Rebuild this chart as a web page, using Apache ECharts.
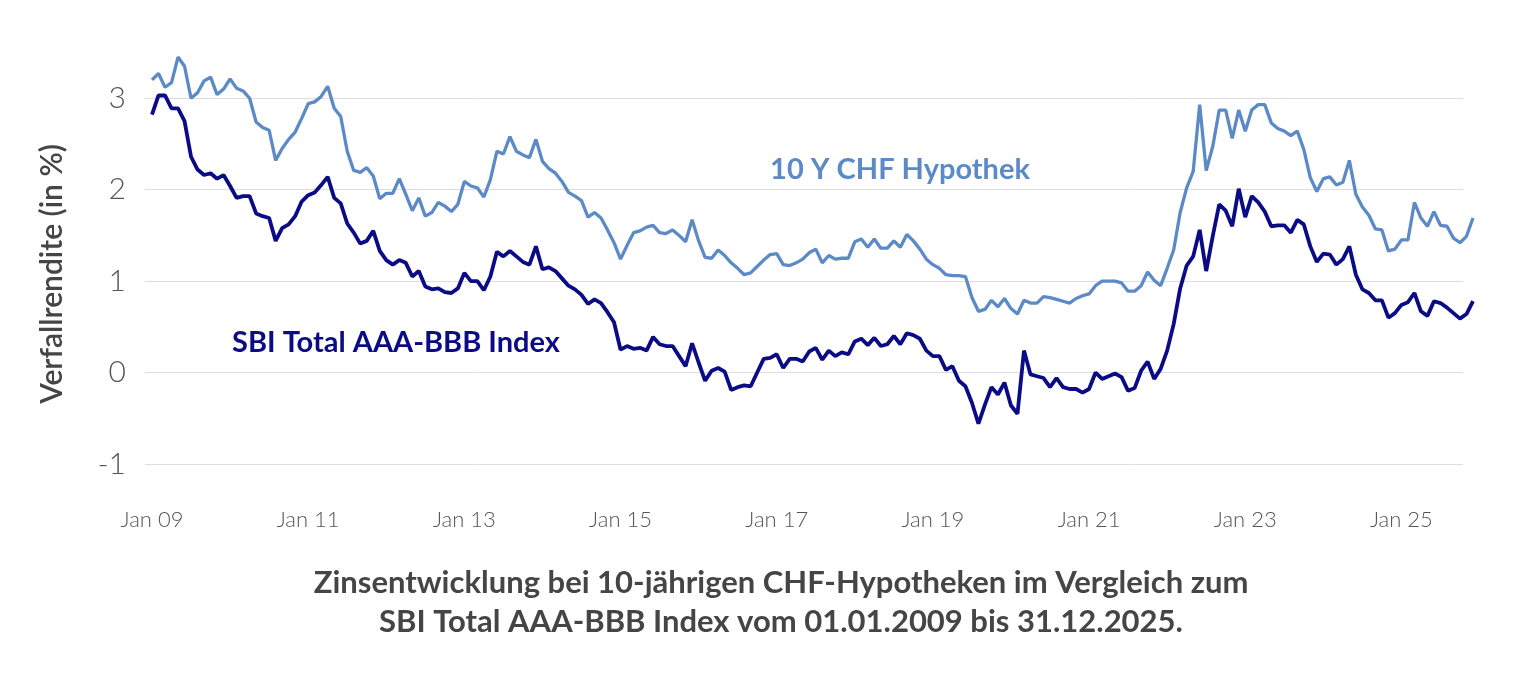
<!DOCTYPE html>
<html>
<head>
<meta charset="utf-8">
<script src="https://cdn.jsdelivr.net/npm/echarts@6/dist/echarts.min.js"></script>
<style>
  html, body { margin:0; padding:0; background:#ffffff; }
  #chart { width:1536px; height:690px; }
</style>
</head>
<body>
<div id="chart"></div>
<script>
// ---- Data (monthly, Jan 2009 – Dec 2025) ----
const startYear = 2009;
const endYear = 2025;
const monthNames = ['Jan','Feb','Mär','Apr','Mai','Jun','Jul','Aug','Sep','Okt','Nov','Dez'];

const hypothek10y = [
  3.20, 3.27, 3.12, 3.17, 3.45, 3.35, 3.00, 3.06, 3.19, 3.23, 3.04, 3.10, 3.21, 3.11, 3.08, 3.00, 2.74, 2.68, 2.65, 2.32, 2.45, 2.55, 2.63, 2.78, 2.94, 2.96,
  3.02, 3.13, 2.89, 2.80, 2.42, 2.21, 2.19, 2.24, 2.15, 1.90, 1.96, 1.96, 2.12, 1.95, 1.77, 1.91, 1.71, 1.75, 1.86, 1.82, 1.76, 1.84, 2.09, 2.04,
  2.02, 1.92, 2.11, 2.42, 2.39, 2.58, 2.42, 2.38, 2.35, 2.55, 2.31, 2.23, 2.18, 2.09, 1.97, 1.93, 1.88, 1.70, 1.75, 1.69, 1.56, 1.42, 1.24, 1.39, 1.53,
  1.55, 1.59, 1.61, 1.53, 1.52, 1.56, 1.50, 1.43, 1.67, 1.44, 1.26, 1.25, 1.34, 1.28, 1.20, 1.14, 1.07, 1.09, 1.16, 1.23, 1.29, 1.30, 1.18, 1.17, 1.20,
  1.24, 1.31, 1.35, 1.20, 1.28, 1.24, 1.25, 1.25, 1.43, 1.46, 1.37, 1.46, 1.36, 1.36, 1.44, 1.37, 1.51, 1.44, 1.35, 1.24, 1.18, 1.14, 1.07, 1.06,
  1.06, 1.05, 0.82, 0.67, 0.69, 0.79, 0.72, 0.81, 0.70, 0.64, 0.79, 0.76, 0.76, 0.83, 0.82, 0.80, 0.78, 0.76, 0.81, 0.84, 0.86, 0.95, 1.00, 1.00, 1.00,
  0.98, 0.89, 0.89, 0.95, 1.10, 1.01, 0.95, 1.14, 1.34, 1.75, 2.02, 2.20, 2.93, 2.21, 2.47, 2.87, 2.87, 2.56, 2.87, 2.64, 2.87, 2.93, 2.93, 2.73, 2.67,
  2.64, 2.59, 2.64, 2.44, 2.13, 1.98, 2.12, 2.14, 2.05, 2.08, 2.32, 1.95, 1.81, 1.72, 1.57, 1.56, 1.33, 1.35, 1.45, 1.45, 1.86, 1.69, 1.60, 1.76, 1.61, 1.60, 1.47, 1.42, 1.49, 1.69
];

const sbiTotal = [
  2.82, 3.03, 3.03, 2.89, 2.89, 2.75, 2.36, 2.22, 2.16, 2.18, 2.12, 2.16, 2.04, 1.91, 1.93, 1.93, 1.74, 1.71, 1.69, 1.44, 1.58, 1.62, 1.71, 1.87, 1.94, 1.97,
  2.05, 2.14, 1.91, 1.85, 1.63, 1.53, 1.41, 1.44, 1.55, 1.33, 1.23, 1.18, 1.23, 1.20, 1.05, 1.11, 0.94, 0.91, 0.92, 0.88, 0.87, 0.92, 1.09, 1.00,
  1.00, 0.90, 1.05, 1.32, 1.27, 1.33, 1.27, 1.21, 1.18, 1.38, 1.13, 1.15, 1.11, 1.03, 0.95, 0.91, 0.85, 0.75, 0.80, 0.76, 0.66, 0.55, 0.25, 0.29, 0.26,
  0.27, 0.24, 0.39, 0.31, 0.29, 0.29, 0.18, 0.07, 0.32, 0.11, -0.09, 0.02, 0.05, 0.01, -0.19, -0.16, -0.14, -0.15, 0.00, 0.15, 0.16, 0.20, 0.05, 0.15, 0.15,
  0.12, 0.23, 0.27, 0.14, 0.24, 0.18, 0.22, 0.20, 0.34, 0.37, 0.30, 0.38, 0.29, 0.31, 0.40, 0.31, 0.43, 0.41, 0.37, 0.24, 0.18, 0.18, 0.03, 0.07, -0.09,
  -0.15, -0.33, -0.56, -0.35, -0.16, -0.24, -0.11, -0.36, -0.45, 0.24, -0.02, -0.04, -0.06, -0.16, -0.06, -0.16, -0.18, -0.18, -0.22, -0.18, 0.00, -0.07, -0.04, -0.01, -0.05,
  -0.20, -0.17, 0.02, 0.12, -0.07, 0.04, 0.24, 0.53, 0.92, 1.17, 1.27, 1.56, 1.11, 1.49, 1.84, 1.77, 1.60, 2.01, 1.70, 1.93, 1.86, 1.76, 1.60, 1.61, 1.61,
  1.53, 1.67, 1.62, 1.38, 1.21, 1.30, 1.29, 1.18, 1.24, 1.38, 1.07, 0.91, 0.87, 0.79, 0.79, 0.60, 0.65, 0.74, 0.77, 0.87, 0.67, 0.62, 0.78, 0.76, 0.71, 0.65, 0.59, 0.64, 0.78
];

const yTicks = [-1, 0, 1, 2, 3];
const seriesNames = ['10 Y CHF Hypothek', 'SBI Total AAA-BBB Index'];
const yAxisTitle = 'Verfallrendite (in %)';
const chartTitle = 'Zinsentwicklung bei 10-jährigen CHF-Hypotheken im Vergleich zum\nSBI Total AAA-BBB Index vom 01.01.2009 bis 31.12.2025.';

// categories: one per month
const categories = [];
for (let y = startYear; y <= endYear; y++) {
  for (let m = 0; m < 12; m++) {
    categories.push(monthNames[m] + ' ' + String(y % 100).padStart(2, '0'));
  }
}

const FONT = 'Lato, "Source Sans Pro", "Noto Sans", sans-serif';
const LIGHT = '#5b8ac7';
const DARK = '#0b0b85';

const chart = echarts.init(document.getElementById('chart'), null, { renderer: 'canvas' });

const option = {
  backgroundColor: '#ffffff',
  animation: false,
  grid: [
    { left: 145, right: 73, top: 52.5, bottom: 226 },
    { left: 152, right: 63, top: 52.5, bottom: 226 }
  ],
  xAxis: [
    { gridIndex: 0, type: 'category', data: categories, boundaryGap: false, show: false },
    {
      gridIndex: 1, type: 'category', data: categories, boundaryGap: false,
      axisLine: { show: false }, axisTick: { show: false }, splitLine: { show: false },
      axisLabel: {
        interval: function (idx) { return idx % 24 === 0; },
        margin: 45, fontSize: 22, color: '#555', fontFamily: FONT, fontWeight: 300
      }
    }
  ],
  yAxis: [
    {
      gridIndex: 0, type: 'value', min: yTicks[0], max: 3.5, interval: 1,
      axisLine: { show: false }, axisTick: { show: false },
      splitLine: { show: true, showMaxLine: false, lineStyle: { color: '#dedede', width: 1 } },
      axisLabel: {
        formatter: function (v) { return yTicks.indexOf(v) >= 0 ? String(v) : ''; },
        margin: 19, fontSize: 30, color: '#555', fontFamily: FONT, fontWeight: 300
      }
    },
    { gridIndex: 1, type: 'value', min: yTicks[0], max: 3.5, interval: 1, show: false }
  ],
  series: [
    {
      name: seriesNames[0], type: 'line', xAxisIndex: 1, yAxisIndex: 1,
      data: hypothek10y, showSymbol: false, symbol: 'none', clip: false,
      lineStyle: { color: LIGHT, width: 3.3 }
    },
    {
      name: seriesNames[1], type: 'line', xAxisIndex: 1, yAxisIndex: 1,
      data: sbiTotal, showSymbol: false, symbol: 'none', clip: false,
      lineStyle: { color: DARK, width: 3.8 }
    }
  ],
  graphic: [
    {
      type: 'text', x: 52, y: 274, rotation: Math.PI / 2,
      style: { text: yAxisTitle, textAlign: 'center', textVerticalAlign: 'middle',
               font: '600 30px ' + FONT, fill: '#454545' }
    },
    {
      type: 'text', x: 900, y: 170,
      style: { text: seriesNames[0], textAlign: 'center', textVerticalAlign: 'middle',
               font: 'bold 29px ' + FONT, fill: LIGHT }
    },
    {
      type: 'text', x: 396, y: 343,
      style: { text: seriesNames[1], textAlign: 'center', textVerticalAlign: 'middle',
               font: 'bold 29px ' + FONT, fill: DARK }
    },
    {
      type: 'text', x: 781, y: 602,
      style: { text: chartTitle, textAlign: 'center', textVerticalAlign: 'middle',
               font: 'bold 31px ' + FONT, lineHeight: 39, fill: '#454545' }
    }
  ]
};

chart.setOption(option);
</script>
</body>
</html>
